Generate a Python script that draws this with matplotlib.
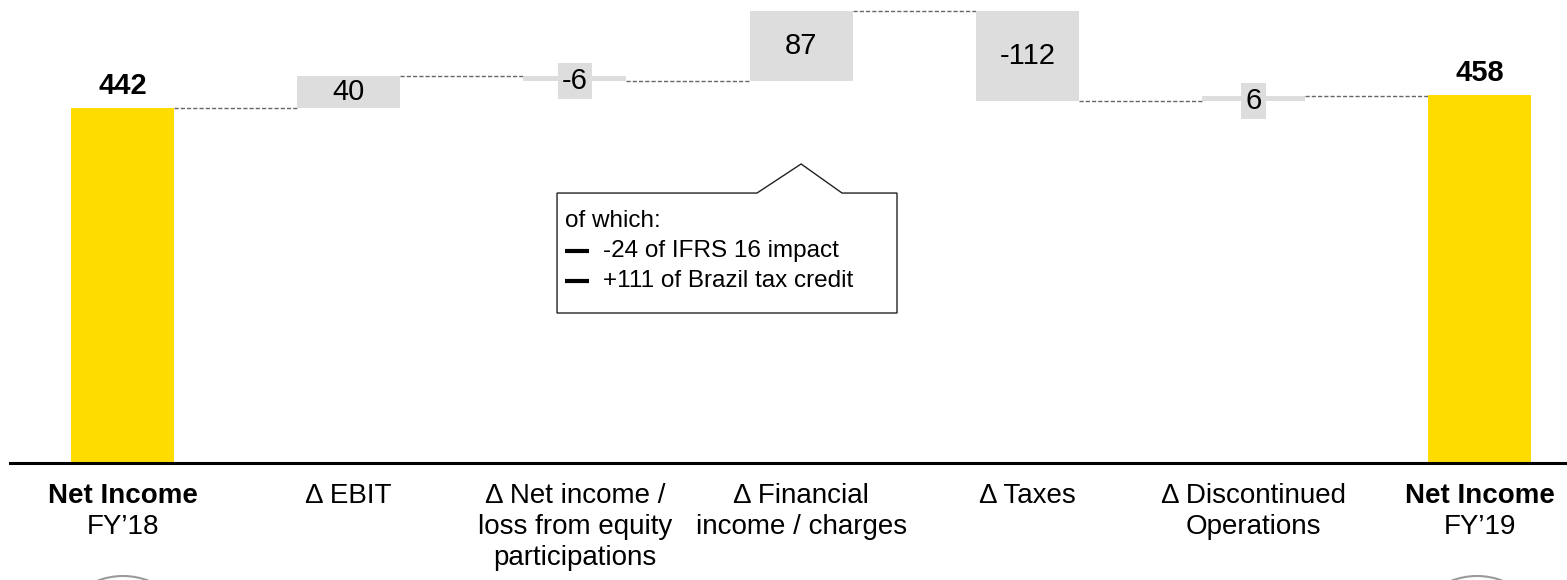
import matplotlib
matplotlib.use("Agg")
import matplotlib.pyplot as plt
from matplotlib.patches import Polygon, Circle

plt.rcParams["font.family"] = ["Liberation Sans", "DejaVu Sans"]

# ---- dados ----
categorias = [
    ["Net Income", "FY\u201918"],
    ["\u0394 EBIT"],
    ["\u0394 Net income /", "loss from equity", "participations"],
    ["\u0394 Financial", "income / charges"],
    ["\u0394 Taxes"],
    ["\u0394 Discontinued", "Operations"],
    ["Net Income", "FY\u201919"],
]
valores = [442, 40, -6, 87, -112, 6, 458]
e_total = [True, False, False, False, False, False, True]
rotulos = ["442", "40", "-6", "87", "-112", "6", "458"]
nota_titulo = "of which:"
nota_itens = ["-24 of IFRS 16 impact", "+111 of Brazil tax credit"]

COR_TOTAL = "#FFDC00"
COR_DELTA = "#DDDDDD"
COR_LINHA = "#666666"

W, H = 1567, 580
fig = plt.figure(figsize=(W / 100, H / 100), dpi=100)
ax = fig.add_axes([0, 0, 1, 1])
ax.set_xlim(-0.5416, 6.386)
ax.set_ylim(-145.7, 576.6)
ax.axis("off")

larg = 0.455
nivel = 0.0
niveis = []
for i, (v, tot) in enumerate(zip(valores, e_total)):
    if tot:
        ax.bar(i, v, width=larg, color=COR_TOTAL, zorder=2)
        ax.text(i, v + 10, rotulos[i], ha="center", va="bottom",
                fontsize=21, fontweight="bold")
        nivel = v
    else:
        base = nivel
        ax.bar(i, v, bottom=base, width=larg, color=COR_DELTA, zorder=2)
        meio = base + v / 2
        if abs(v) < 10:
            ax.text(i, meio - 3, rotulos[i], ha="center", va="center", fontsize=21,
                    bbox=dict(facecolor=COR_DELTA, edgecolor="none", pad=3), zorder=3)
        else:
            ax.text(i, meio, rotulos[i], ha="center", va="center", fontsize=21, zorder=3)
        nivel = base + v
    niveis.append(nivel)

# conectores tracejados
for i in range(len(valores) - 1):
    ax.plot([i + larg / 2, i + 1 - larg / 2], [niveis[i], niveis[i]],
            ls=(0, (3, 1.5)), color=COR_LINHA, lw=1, zorder=1)

# linha base
ax.axhline(0, xmin=10 / W, xmax=1, color="black", lw=2.2, zorder=4)

# rótulos das categorias
for i, linhas in enumerate(categorias):
    for k, txt in enumerate(linhas):
        peso = "bold" if (e_total[i] and k == 0) else "normal"
        ax.text(i, -41.1 - 38.6 * k, txt, ha="center", va="center",
                fontsize=20, fontweight=peso)

# balão explicativo ligado ao resultado financeiro
c = 3
topo, fundo = 336.2, 186.8
pts = [(c - 1.079, topo), (c - 0.195, topo), (c, 372.4), (c + 0.181, topo),
       (c + 0.424, topo), (c + 0.424, fundo), (c - 1.079, fundo)]
ax.add_patch(Polygon(pts, closed=True, facecolor="white", edgecolor="#222222",
                     lw=1, zorder=5))
ax.text(c - 1.044, 301, nota_titulo, ha="left", va="center", fontsize=17.5, zorder=6)
for k, txt in enumerate(nota_itens):
    y = 264 - 37.4 * k
    ax.plot([c - 1.044, c - 0.938], [y, y], color="black", lw=3,
            solid_capstyle="butt", zorder=6)
    ax.text(c - 0.876, y, txt, ha="left", va="center", fontsize=17.5, zorder=6)

# círculos decorativos cortados na base
for px in (123, 1477):
    fig.add_artist(Circle((px / 100, -0.67), 0.71, transform=fig.dpi_scale_trans,
                          facecolor="none", edgecolor="#9A9A9A", lw=1.5, clip_on=False))

fig.savefig("out.png", dpi=100)
